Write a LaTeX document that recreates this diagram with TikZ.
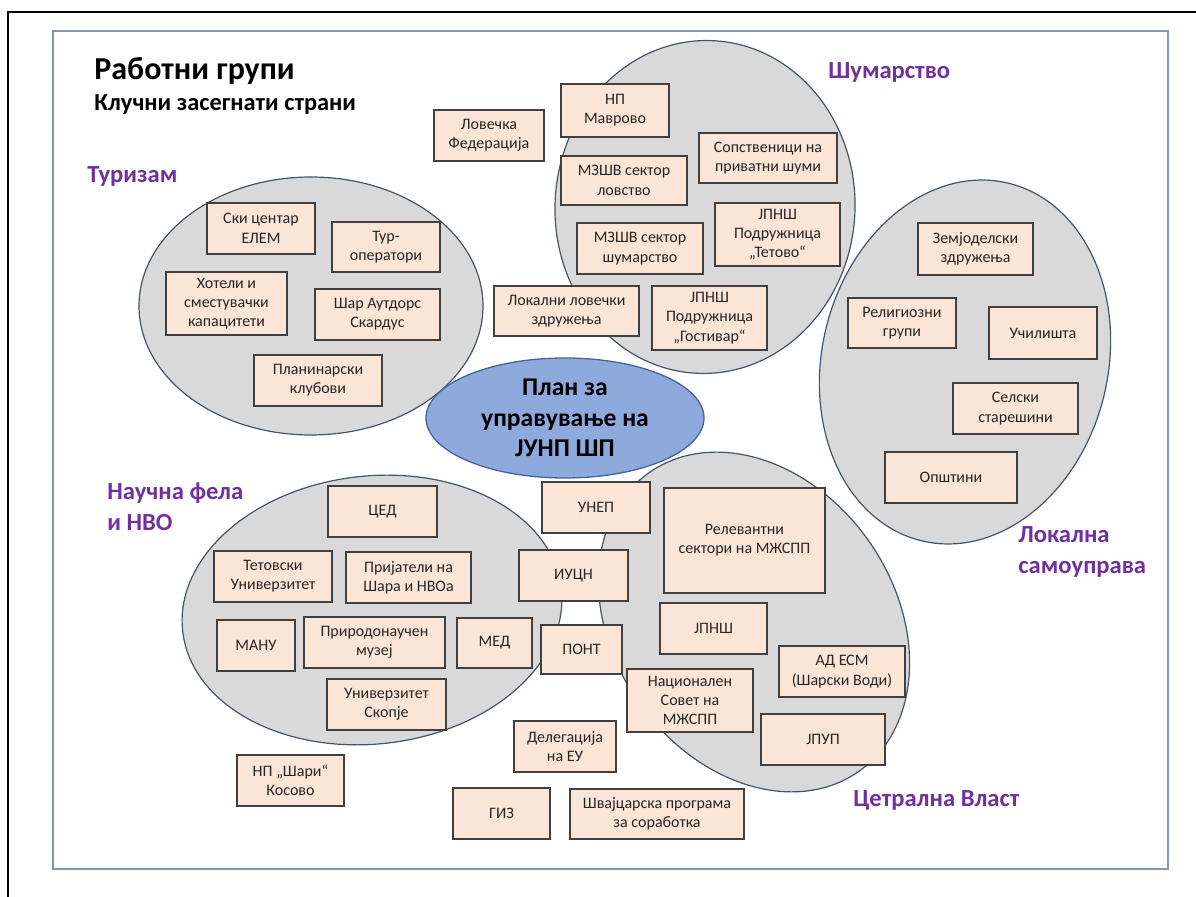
\documentclass[tikz,border=0pt]{standalone}
\usepackage{fontspec}
\setmainfont{Carlito}
\usetikzlibrary{shapes.geometric}
\definecolor{peach}{HTML}{FBE5D6}
\definecolor{boxline}{HTML}{404040}
\definecolor{boxtext}{HTML}{262626}
\definecolor{grpfill}{HTML}{D9D9D9}
\definecolor{grpline}{HTML}{44546A}
\definecolor{planfill}{HTML}{8EA9DB}
\definecolor{planline}{HTML}{41659F}
\definecolor{grppurple}{HTML}{7030A0}
\definecolor{framegray}{HTML}{8497B0}
\newcommand\boxfont{\fontsize{8}{9.65}\selectfont}

\begin{document}
\begin{tikzpicture}[x=0.5pt,y=-0.5pt,
  box/.style 2 args={draw=boxline,fill=peach,line width=0.6pt,inner sep=0pt,
    align=center,font=\boxfont,text=boxtext,
    minimum width=#1*0.5pt,minimum height=#2*0.5pt},
  grp/.style 2 args={ellipse,draw=grpline,fill=grpfill,line width=0.6pt,inner sep=0pt,
    minimum width=#1*0.5pt,minimum height=#2*0.5pt},
  grplabel/.style={anchor=west,inner sep=0pt,text=grppurple,align=left,
    font=\bfseries\fontsize{12.3}{15.5}\selectfont}]
\useasboundingbox (0,0) rectangle (1196,897);

\draw[line width=1pt] (8,897) -- (8,12) -- (1196,12);
\draw[framegray,line width=0.75pt] (53,31) rectangle (1168,869);

\node[grp={344}{258}] (turizam) at (311,306) {};
\node[grp={300}{333},rotate=-3] (sumarstvo) at (705,207) {};
\node[grp={286}{368},rotate=-13.7] (lokalna) at (965,362) {};
\node[grp={381}{268},rotate=6.4] (naucna) at (372,610) {};
\node[grp={365}{281},rotate=-55] (centralna) at (754,622) {};
\node[ellipse,draw=planline,fill=planfill,line width=0.65pt,inner sep=0pt,
  minimum width=139pt,minimum height=60pt,align=center,
  font=\bfseries\fontsize{12.8}{15.2}\selectfont] (plan) at (565,418)
  {План за\\управување на\\ЈУНП ШП};

\node[box={110}{51}] (lovfed) at (489,135.5) {Ловечка\\Федерација};
\node[box={108}{53}] (mavrovo) at (615,110.5) {НП\\Маврово};
\node[box={126}{49}] (lovstvo) at (624,180.5) {МЗШВ сектор\\ловство};
\node[box={126}{51}] (sumstvo) at (640,248.5) {МЗШВ сектор\\шумарство};
\node[box={138}{50}] (sopstv) at (768,158) {Сопственици на\\приватни шуми};
\node[box={125}{63}] (tetovo) at (777.5,234.5) {ЈПНШ\\Подружница\\„Тетово“};
\node[box={115}{64}] (gostivar) at (709.5,318) {ЈПНШ\\Подружница\\„Гостивар“};
\node[box={145}{50}] (lokallov) at (566.5,311) {Локални ловечки\\здружења};

\node[box={108}{51}] (ski) at (261,228.5) {Ски центар\\ЕЛЕМ};
\node[box={108}{50}] (turop) at (386,247) {Тур-\\оператори};
\node[box={121}{63}] (hoteli) at (226.5,303.5) {Хотели и\\сместувачки\\капацитети};
\node[box={125}{51}] (skardus) at (377.5,314.5) {Шар Аутдорс\\Скардус};
\node[box={128}{51}] (planin) at (318,380.5) {Планинарски\\клубови};

\node[box={115}{52}] (zemj) at (975.5,249) {Земјоделски\\здружења};
\node[box={108}{50}] (relig) at (902,323) {Религиозни\\групи};
\node[box={108}{52}] (ucil) at (1043,333) {Училишта};
\node[box={125}{51}] (selski) at (1015.5,408.5) {Селски\\старешини};
\node[box={132}{51}] (opstini) at (951,477.5) {Општини};

\node[box={109}{51}] (ced) at (382.5,511.5) {ЦЕД};
\node[box={118}{51}] (tetuni) at (273,576.5) {Тетовски\\Универзитет};
\node[box={125}{51}] (prijat) at (408.5,577.5) {Пријатели на\\Шара и НВОа};
\node[box={78}{51}] (manu) at (256,645.5) {МАНУ};
\node[box={141}{51}] (prirod) at (374.5,642.5) {Природонаучен\\музеј};
\node[box={75}{50}] (med) at (494.5,643) {МЕД};
\node[box={119}{51}] (uniskop) at (386.5,704.5) {Универзитет\\Скопје};
\node[box={107}{51}] (npsari) at (290.5,780.5) {НП „Шари“\\Косово};

\node[box={108}{51}] (unep) at (596,507.5) {УНЕП};
\node[box={109}{51}] (iucn) at (573.5,575.5) {ИУЦН};
\node[box={81}{49}] (pont) at (581.5,649.5) {ПОНТ};
\node[box={102}{51}] (deleg) at (565,746.5) {Делегација\\на ЕУ};
\node[box={97}{51}] (giz) at (501.5,813.5) {ГИЗ};
\node[box={174}{50}] (svajc) at (657,814) {Швајцарска програма\\за соработка};

\node[box={161}{105}] (relev) at (744.5,540.5) {Релевантни\\сектори на МЖСПП};
\node[box={107}{51}] (jpns) at (713.5,628.5) {ЈПНШ};
\node[box={126}{63}] (nacsov) at (690,700.5) {Национален\\Совет на\\МЖСПП};
\node[box={126}{51}] (adesm) at (842,671.5) {АД ЕСМ\\(Шарски Води)};
\node[box={124}{51}] (jpup) at (823,739.5) {ЈПУП};

\node[anchor=west,inner sep=0pt,font=\bfseries\fontsize{16}{19}\selectfont] (naslov) at (94,71) {Работни групи};
\node[anchor=west,inner sep=0pt,font=\bfseries\fontsize{12.2}{14}\selectfont] (podnaslov) at (94,105) {Клучни засегнати страни};
\node[grplabel] (lturizam) at (87,176) {Туризам};
\node[grplabel] (lsumarstvo) at (828,72) {Шумарство};
\node[grplabel] (lnaucna) at (107,507) {Научна фела\\и НВО};
\node[grplabel] (llokalna) at (1018,552) {Локална\\самоуправа};
\node[grplabel] (lcentralna) at (853,800) {Цетрална Власт};
\end{tikzpicture}
\end{document}
